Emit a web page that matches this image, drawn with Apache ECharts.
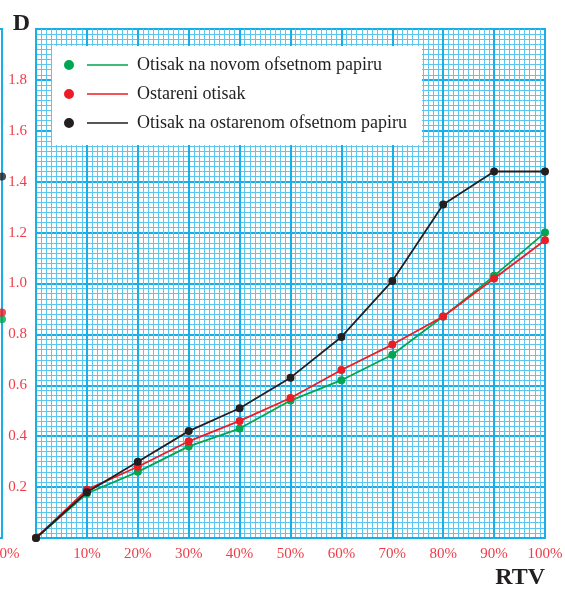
<!DOCTYPE html>
<html>
<head>
<meta charset="utf-8">
<script src="https://cdn.jsdelivr.net/npm/echarts@6/dist/echarts.min.js"></script>
<style>
  html, body { margin: 0; padding: 0; background: #fff; }
  #chart { width: 565px; height: 589px; }
</style>
</head>
<body>
<div id="chart"></div>
<script>
// RTV (%) na x osi
const rtv = [0, 10, 20, 30, 40, 50, 60, 70, 80, 90, 100]
// gustoca D po seriji
const noviPapir = [0, 0.175, 0.26, 0.36, 0.43, 0.54, 0.62, 0.72, 0.87, 1.03, 1.20]
const ostareniOtisak = [0, 0.19, 0.28, 0.38, 0.46, 0.55, 0.66, 0.76, 0.87, 1.02, 1.17]
const ostareniPapir = [0, 0.18, 0.30, 0.42, 0.51, 0.63, 0.79, 1.01, 1.31, 1.44, 1.44]
// odrezani kraj susjednog grafa (samo tocke na 100%)
const susjedni100 = { novi: 0.86, ostareni: 0.886, papir: 1.42 }

const names = ['Otisak na novom ofsetnom papiru', 'Ostareni otisak', 'Otisak na ostarenom ofsetnom papiru']
const colors = ['#00a651', '#ed1c24', '#231f20']

const majorBlue = '#1aaee8'
const minorBlue = '#5cc6ef'
const labelRed = '#ee3d48'
const serif = '"Liberation Serif", "DejaVu Serif", serif'

const pairs = arr => rtv.map((x, i) => [x, arr[i]])

const chart = echarts.init(document.getElementById('chart'))

const axisCommon = {
  type: 'value',
  axisTick: { show: false },
  axisLine: { show: true, lineStyle: { color: majorBlue, width: 2 } },
  splitLine: { show: true, lineStyle: { color: majorBlue, width: 2 } },
  minorTick: { show: false, splitNumber: 10 },
  minorSplitLine: { show: true, lineStyle: { color: minorBlue, width: 1 } },
  axisLabel: { color: labelRed, fontFamily: serif, fontSize: 15 }
}

const lineSeries = (name, data, color, z) => ({
  name,
  type: 'line',
  data: pairs(data),
  symbol: 'circle',
  symbolSize: 8,
  z,
  itemStyle: { color },
  lineStyle: { color, width: 1.8 }
})

const option = {
  animation: false,
  backgroundColor: '#fff',
  grid: [
    { left: 36, right: 20, top: 29, bottom: 51, show: true, borderColor: majorBlue, borderWidth: 2, backgroundColor: '#fff', outerBoundsMode: 'none' },
    { left: -300, right: 563, top: 29, bottom: 51, show: true, borderColor: majorBlue, borderWidth: 2, outerBoundsMode: 'none' }
  ],
  legend: {
    orient: 'vertical',
    left: 52,
    top: 46,
    padding: [10, 15, 13, 12],
    backgroundColor: '#fff',
    itemGap: 11,
    itemWidth: 64,
    itemHeight: 10,
    icon: 'path://M5,0A5,5 0 1,1 5,10A5,5 0 1,1 5,0ZM23,4.2H64V5.8H23Z',
    itemStyle: { borderWidth: 0 },
    textStyle: { fontFamily: serif, fontSize: 18, color: '#231f20', padding: [0, 0, 0, 4] },
    data: names
  },
  xAxis: [
    Object.assign({}, axisCommon, {
      gridIndex: 0,
      min: 0, max: 100, interval: 10,
      name: 'RTV',
      nameLocation: 'end',
      nameGap: 0,
      nameTextStyle: { fontFamily: serif, fontSize: 24, fontWeight: 'bold', color: '#231f20', align: 'right', verticalAlign: 'top', padding: [28, 0, 0, 0] },
      axisLabel: Object.assign({}, axisCommon.axisLabel, {
        margin: 9,
        showMinLabel: false,
        formatter: v => v + '%'
      })
    }),
    Object.assign({}, axisCommon, {
      gridIndex: 1,
      min: 0, max: 100, interval: 10,
      splitLine: { show: false },
      minorSplitLine: { show: false },
      axisLine: { show: false },
      axisLabel: Object.assign({}, axisCommon.axisLabel, {
        margin: 9,
        formatter: v => (v === 100 ? v + '%' : '')
      })
    })
  ],
  yAxis: [
    Object.assign({}, axisCommon, {
      gridIndex: 0,
      min: 0, max: 2, interval: 0.2,
      name: 'D',
      nameLocation: 'end',
      nameGap: -7,
      nameTextStyle: { fontFamily: serif, fontSize: 24, fontWeight: 'bold', color: '#231f20', align: 'right', verticalAlign: 'bottom', padding: [0, 6, 0, 0] },
      axisLabel: Object.assign({}, axisCommon.axisLabel, {
        margin: 9,
        showMinLabel: false,
        showMaxLabel: false,
        formatter: v => v.toFixed(1)
      })
    }),
    Object.assign({}, axisCommon, {
      gridIndex: 1,
      min: 0, max: 2, interval: 0.2,
      splitLine: { show: false },
      minorSplitLine: { show: false },
      axisLine: { show: false },
      axisLabel: { show: false }
    })
  ],
  series: [
    lineSeries(names[0], noviPapir, colors[0], 3),
    lineSeries(names[1], ostareniOtisak, colors[1], 4),
    lineSeries(names[2], ostareniPapir, colors[2], 5),
    {
      type: 'scatter', xAxisIndex: 1, yAxisIndex: 1, symbolSize: 8, z: 5,
      data: [
        { value: [100, susjedni100.novi], itemStyle: { color: colors[0] } },
        { value: [100, susjedni100.ostareni], itemStyle: { color: colors[1] } },
        { value: [100, susjedni100.papir], itemStyle: { color: colors[2] } }
      ]
    }
  ]
}

chart.setOption(option)
</script>
</body>
</html>
